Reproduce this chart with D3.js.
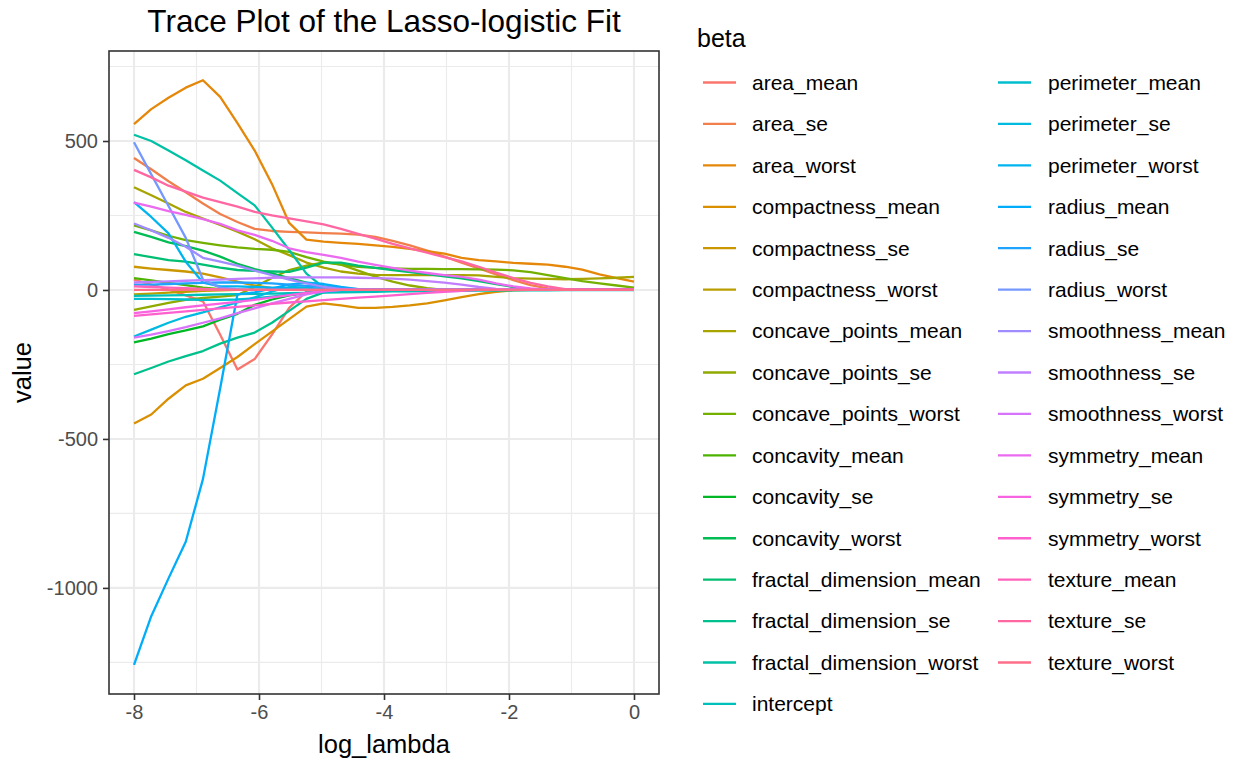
<!DOCTYPE html>
<html>
<head>
<meta charset="utf-8">
<script src="https://cdn.jsdelivr.net/npm/d3@7"></script>
<style>
  html, body { margin: 0; padding: 0; background: #fff; }
  svg text { font-family: "Liberation Sans", Arial, Helvetica, sans-serif; }
</style>
</head>
<body>
<svg id="chart" width="1238" height="763"></svg>
<script>
// ---------------- data ----------------
const logLambda = [-8, -7.724, -7.448, -7.172, -6.897, -6.621, -6.345, -6.069, -5.793, -5.517,
  -5.241, -4.966, -4.690, -4.414, -4.138, -3.862, -3.586, -3.310, -3.034, -2.759,
  -2.483, -2.207, -1.931, -1.655, -1.379, -1.103, -0.828, -0.552, -0.276, 0];

const area_mean = [35, 18, 2, -18, -38, -150, -267, -232, -150, -60, -5, 0, 0, 0, 0, 0, 0, 0, 0, 0, 0, 0, 0, 0, 0, 0, 0, 0, 0, 0];
const area_se = [443, 405, 365, 328, 290, 255, 228, 205, 198, 195, 193, 191, 189, 186, 178, 165, 150, 132, 112, 92, 72, 52, 33, 16, 5, 0, 0, 0, 0, 0];
const area_worst = [557, 607, 645, 679, 704, 648, 560, 468, 356, 225, 169, 162, 158, 155, 150, 145, 138, 130, 122, 108, 100, 96, 91, 88, 85, 78, 68, 52, 40, 28];
const compactness_mean = [-448, -418, -365, -320, -298, -262, -225, -182, -140, -98, -56, -45, -52, -60, -60, -57, -52, -45, -35, -24, -14, -6, -1, 0, 0, 0, 0, 0, 0, 0];
const compactness_se = [78, 72, 67, 62, 55, 42, 28, 15, 6, 1, 0, 0, 0, 0, 0, 0, 0, 0, 0, 0, 0, 0, 0, 0, 0, 0, 0, 0, 0, 0];
const compactness_worst = [-15, -12, -9, -6, -3, -1, 0, 0, 0, 0, 0, 0, 0, 0, 0, 0, 0, 0, 0, 0, 0, 0, 0, 0, 0, 0, 0, 0, 0, 0];
const concave_points_mean = [345, 318, 290, 262, 240, 218, 196, 170, 140, 117, 92, 75, 62, 55, 51, 50, 50, 50, 50, 50, 49, 44, 40, 38, 37, 36, 37, 39, 41, 44];
const concave_points_se = [-67, -55, -43, -33, -27, -22, -17, 10, 40, 67, 82, 93, 85, 65, 45, 28, 15, 6, 0, 0, 0, 0, 0, 0, 0, 0, 0, 0, 0, 0];
const concave_points_worst = [217, 200, 182, 167, 158, 150, 143, 138, 135, 128, 110, 95, 85, 78, 74, 72, 71, 71, 70, 70, 69, 68, 66, 60, 50, 40, 30, 22, 15, 8];
const concavity_mean = [40, 32, 24, 16, 8, 3, 0, 0, 0, 0, 0, 0, 0, 0, 0, 0, 0, 0, 0, 0, 0, 0, 0, 0, 0, 0, 0, 0, 0, 0];
const concavity_se = [-176, -163, -148, -136, -122, -100, -80, -50, -32, -18, -10, -4, 0, 0, 0, 0, 0, 0, 0, 0, 0, 0, 0, 0, 0, 0, 0, 0, 0, 0];
const concavity_worst = [195, 178, 160, 147, 132, 112, 88, 70, 56, 40, 25, 12, 4, 0, 0, 0, 0, 0, 0, 0, 0, 0, 0, 0, 0, 0, 0, 0, 0, 0];
const fractal_dimension_mean = [120, 110, 100, 95, 85, 75, 67, 64, 62, 61, 75, 92, 92, 82, 74, 67, 60, 53, 46, 39, 30, 20, 10, 3, 0, 0, 0, 0, 0, 0];
const fractal_dimension_se = [-283, -262, -240, -222, -205, -180, -160, -143, -110, -70, -30, -8, 0, 0, 0, 0, 0, 0, 0, 0, 0, 0, 0, 0, 0, 0, 0, 0, 0, 0];
const fractal_dimension_worst = [521, 500, 468, 435, 401, 367, 325, 284, 210, 134, 55, 8, 0, 0, 0, 0, 0, 0, 0, 0, 0, 0, 0, 0, 0, 0, 0, 0, 0, 0];
const intercept = [-20, -19, -18, -17, -16, -15, -14, -13, -12, -11, -10, -9, -8, -7, -6, -5, -4.5, -4, -3.5, -3, -2.5, -2, -1.6, -1.2, -1, -0.8, -0.7, -0.6, -0.55, -0.5];
const perimeter_mean = [-30, -30, -31, -32, -33, -33, -32, -28, -22, -16, -10, -6, -3, -1, 0, 0, 0, 0, 0, 0, 0, 0, 0, 0, 0, 0, 0, 0, 0, 0];
const perimeter_se = [-156, -133, -110, -90, -75, -58, -42, -25, -5, 10, 8, 3, 0, 0, 0, 0, 0, 0, 0, 0, 0, 0, 0, 0, 0, 0, 0, 0, 0, 0];
const perimeter_worst = [295, 245, 190, 95, 25, 12, 12, 10, 8, 5, 0, 0, 0, 0, 0, 0, 0, 0, 0, 0, 0, 0, 0, 0, 0, 0, 0, 0, 0, 0];
const radius_mean = [-1258, -1095, -968, -845, -635, -330, -15, -8, 5, 18, 25, 20, 10, 3, 0, 0, 0, 0, 0, 0, 0, 0, 0, 0, 0, 0, 0, 0, 0, 0];
const radius_se = [18, 18, 20, 22, 24, 25, 25, 24, 22, 18, 14, 10, 6, 3, 0, 0, 0, 0, 0, 0, 0, 0, 0, 0, 0, 0, 0, 0, 0, 0];
const radius_worst = [496, 388, 282, 175, 35, 8, 3, 0, 0, 0, 0, 0, 0, 0, 0, 0, 0, 0, 0, 0, 0, 0, 0, 0, 0, 0, 0, 0, 0, 0];
const smoothness_mean = [223, 200, 175, 145, 108, 95, 82, 65, 50, 35, 22, 10, 3, 0, 0, 0, 0, 0, 0, 0, 0, 0, 0, 0, 0, 0, 0, 0, 0, 0];
const smoothness_se = [25, 27, 29, 31, 33, 35, 37, 39, 41, 42, 42, 42, 42, 41, 40, 38, 35, 30, 25, 18, 10, 4, 0, 0, 0, 0, 0, 0, 0, 0];
const smoothness_worst = [-160, -150, -138, -125, -110, -95, -78, -62, -45, -30, -15, -5, 0, 0, 0, 0, 0, 0, 0, 0, 0, 0, 0, 0, 0, 0, 0, 0, 0, 0];
const symmetry_mean = [293, 280, 265, 252, 238, 222, 200, 185, 165, 140, 127, 118, 108, 95, 84, 74, 65, 57, 50, 44, 35, 22, 12, 5, 0, 0, 0, 0, 0, 0];
const symmetry_se = [-78, -72, -65, -58, -52, -46, -40, -33, -25, -17, -10, -4, 0, 0, 0, 0, 0, 0, 0, 0, 0, 0, 0, 0, 0, 0, 0, 0, 0, 0];
const symmetry_worst = [-87, -82, -77, -72, -67, -62, -57, -52, -47, -42, -38, -34, -30, -26, -22, -18, -14, -10, -6, -3, 0, 0, 0, 0, 0, 0, 0, 0, 0, 0];
const texture_mean = [12, 10, 8, 6, 4, 2, 0, 0, 0, 0, 0, 0, 0, 0, 0, 0, 0, 0, 0, 0, 0, 0, 0, 0, 0, 0, 0, 0, 0, 0];
const texture_se = [403, 378, 350, 330, 310, 295, 280, 262, 250, 240, 230, 220, 205, 188, 172, 155, 140, 125, 110, 96, 78, 58, 40, 24, 12, 3, 0, 0, 0, 0];
const texture_worst = [0, 0, 0, 0, 0, 0, 0, 0, 0, 0, 0, 0, 0, 0, 0, 0, 0, 0, 0, 0, 0, 0, 0, 0, 0, 0, 0, 0, 0, 0];

const betaNames = ["area_mean", "area_se", "area_worst", "compactness_mean", "compactness_se",
  "compactness_worst", "concave_points_mean", "concave_points_se", "concave_points_worst",
  "concavity_mean", "concavity_se", "concavity_worst", "fractal_dimension_mean",
  "fractal_dimension_se", "fractal_dimension_worst", "intercept", "perimeter_mean",
  "perimeter_se", "perimeter_worst", "radius_mean", "radius_se", "radius_worst",
  "smoothness_mean", "smoothness_se", "smoothness_worst", "symmetry_mean", "symmetry_se",
  "symmetry_worst", "texture_mean", "texture_se", "texture_worst"];

const betaValues = [area_mean, area_se, area_worst, compactness_mean, compactness_se,
  compactness_worst, concave_points_mean, concave_points_se, concave_points_worst,
  concavity_mean, concavity_se, concavity_worst, fractal_dimension_mean,
  fractal_dimension_se, fractal_dimension_worst, intercept, perimeter_mean,
  perimeter_se, perimeter_worst, radius_mean, radius_se, radius_worst,
  smoothness_mean, smoothness_se, smoothness_worst, symmetry_mean, symmetry_se,
  symmetry_worst, texture_mean, texture_se, texture_worst];

const xTicks = [-8, -6, -4, -2, 0];
const yTicks = [-1000, -500, 0, 500];
const xMinor = [-7, -5, -3, -1];
const yMinor = [-1250, -750, -250, 250, 750];

const titleText = "Trace Plot of the Lasso-logistic Fit";
const xTitle = "log_lambda";
const yTitle = "value";
const legendTitle = "beta";

// ---------------- colours: ggplot2 hue palette (polar LUV, as R's hcl) ----------------
function hclR(h, c, l) {
  const hr = h * Math.PI / 180;
  const U = c * Math.cos(hr), V = c * Math.sin(hr);
  const WY = 100, Wu = 0.1978398, Wv = 0.4683363;
  const Y = WY * (l > 7.999592 ? Math.pow((l + 16) / 116, 3) : l / 903.3);
  const u = U / (13 * l) + Wu, v = V / (13 * l) + Wv;
  const X = 9.0 * Y * u / (4 * v);
  const Z = -X / 3 - 5 * Y + 3 * Y / v;
  const x = X / 100, y = Y / 100, z = Z / 100;
  const lin = [
    3.240479 * x - 1.537150 * y - 0.498535 * z,
    -0.969256 * x + 1.875992 * y + 0.041556 * z,
    0.055648 * x - 0.204043 * y + 1.057311 * z];
  const g = lin.map(t => {
    const s = t > 0.00304 ? 1.055 * Math.pow(t, 1 / 2.4) - 0.055 : 12.92 * t;
    return Math.round(255 * Math.max(0, Math.min(1, s)));
  });
  return `rgb(${g[0]},${g[1]},${g[2]})`;
}
const nSeries = betaNames.length;
const palette = betaNames.map((_, i) => hclR(15 + i * 360 / nSeries, 100, 65));
const color = d3.scaleOrdinal().domain(betaNames).range(palette);

// ---------------- layout ----------------
const svg = d3.select("#chart");
const panel = { left: 109, right: 659, top: 51, bottom: 694 };

const allVals = betaValues.flat();
const yMin = d3.min(allVals), yMax = d3.max(allVals);
const yPad = (yMax - yMin) * 0.05;
const xPad = (d3.max(logLambda) - d3.min(logLambda)) * 0.05;

const x = d3.scaleLinear()
  .domain([d3.min(logLambda) - xPad, d3.max(logLambda) + xPad])
  .range([panel.left, panel.right]);
const y = d3.scaleLinear()
  .domain([yMin - yPad, yMax + yPad])
  .range([panel.bottom, panel.top]);

svg.append("rect").attr("width", 1238).attr("height", 763).attr("fill", "#fff");

// grid
const grid = svg.append("g");
grid.selectAll(".xminor").data(xMinor).join("line")
  .attr("x1", d => x(d)).attr("x2", d => x(d))
  .attr("y1", panel.top).attr("y2", panel.bottom)
  .attr("stroke", "#EBEBEB").attr("stroke-width", 1.1);
grid.selectAll(".yminor").data(yMinor).join("line")
  .attr("y1", d => y(d)).attr("y2", d => y(d))
  .attr("x1", panel.left).attr("x2", panel.right)
  .attr("stroke", "#EBEBEB").attr("stroke-width", 1.1);
grid.selectAll(".xmajor").data(xTicks).join("line")
  .attr("x1", d => x(d)).attr("x2", d => x(d))
  .attr("y1", panel.top).attr("y2", panel.bottom)
  .attr("stroke", "#EBEBEB").attr("stroke-width", 2.1);
grid.selectAll(".ymajor").data(yTicks).join("line")
  .attr("y1", d => y(d)).attr("y2", d => y(d))
  .attr("x1", panel.left).attr("x2", panel.right)
  .attr("stroke", "#EBEBEB").attr("stroke-width", 2.1);

// lines
const line = d3.line().x((d, i) => x(logLambda[i])).y(d => y(d));
svg.append("g").selectAll("path").data(betaNames).join("path")
  .attr("d", (name, k) => line(betaValues[k]))
  .attr("fill", "none")
  .attr("stroke", name => color(name))
  .attr("stroke-width", 2.3)
  .attr("stroke-linejoin", "round")
  .attr("stroke-linecap", "butt");

// panel border
svg.append("rect")
  .attr("x", panel.left).attr("y", panel.top)
  .attr("width", panel.right - panel.left).attr("height", panel.bottom - panel.top)
  .attr("fill", "none").attr("stroke", "#333333").attr("stroke-width", 1.6);

// axes
const xAxis = svg.append("g").attr("transform", `translate(0,${panel.bottom})`)
  .call(d3.axisBottom(x).tickValues(xTicks).tickSize(6).tickPadding(5).tickFormat(d3.format("d")));
const yAxis = svg.append("g").attr("transform", `translate(${panel.left},0)`)
  .call(d3.axisLeft(y).tickValues(yTicks).tickSize(6).tickPadding(5).tickFormat(d3.format("d")));
[xAxis, yAxis].forEach(a => {
  a.select(".domain").remove();
  a.selectAll(".tick line").attr("stroke", "#333333").attr("stroke-width", 1.6);
  a.selectAll(".tick text").attr("fill", "#4D4D4D")
    .style("font-size", "20px")
    .style("font-family", "'Liberation Sans', Arial, sans-serif");
});
xAxis.selectAll(".tick text").text(d => String(d));
yAxis.selectAll(".tick text").text(d => String(d));

// titles
svg.append("text").attr("x", (panel.left + panel.right) / 2).attr("y", 32)
  .attr("text-anchor", "middle").style("font-size", "31.5px").attr("fill", "#000")
  .text(titleText);
svg.append("text").attr("x", (panel.left + panel.right) / 2).attr("y", 753)
  .attr("text-anchor", "middle").style("font-size", "25.5px").attr("fill", "#000")
  .text(xTitle);
svg.append("text")
  .attr("transform", `translate(31,${(panel.top + panel.bottom) / 2}) rotate(-90)`)
  .attr("text-anchor", "middle").style("font-size", "25.5px").attr("fill", "#000")
  .text(yTitle);

// legend
const legend = svg.append("g");
legend.append("text").attr("x", 697).attr("y", 47)
  .style("font-size", "25px").attr("fill", "#000").text(legendTitle);
const nRows = Math.ceil(nSeries / 2);
const colX = [703, 998];
const textX = [752, 1048];
const rowY0 = 82.5, rowStep = 41.43;
const items = legend.selectAll("g.item").data(betaNames).join("g").attr("class", "item")
  .attr("transform", (d, i) => `translate(0,${rowY0 + (i % nRows) * rowStep})`);
items.append("line")
  .attr("x1", (d, i) => colX[Math.floor(i / nRows)])
  .attr("x2", (d, i) => colX[Math.floor(i / nRows)] + 33)
  .attr("y1", 0).attr("y2", 0)
  .attr("stroke", d => color(d)).attr("stroke-width", 2.3);
items.append("text")
  .attr("x", (d, i) => textX[Math.floor(i / nRows)])
  .attr("y", 0).attr("dy", "0.35em")
  .style("font-size", "21px").attr("fill", "#000")
  .text(d => d);
</script>
</body>
</html>
